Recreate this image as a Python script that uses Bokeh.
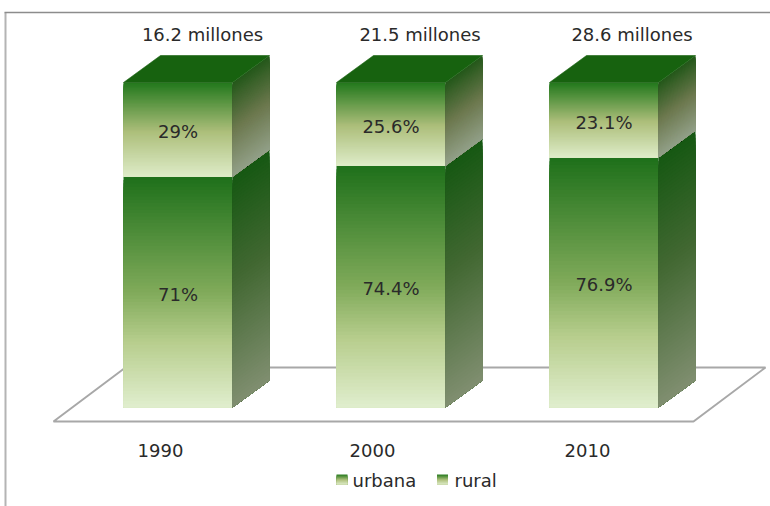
from bokeh.core.properties import value
from bokeh.embed import file_html
from bokeh.models import ColumnDataSource, Range1d
from bokeh.plotting import figure
from bokeh.resources import INLINE

years = ["1990", "2000", "2010"]
urbana = [71, 74.4, 76.9]
rural = [29, 25.6, 23.1]
urbana_labels = ["71%", "74.4%", "76.9%"]
rural_labels = ["29%", "25.6%", "23.1%"]
totals = ["16.2 millones", "21.5 millones", "28.6 millones"]

FONT = value("DejaVu Sans")
FONT_SIZE = "18px"
TEXT = "#2a2a2a"
PX_X = 213.0     # pixels per category step
PX_Y = 3.25      # pixels per percentage point
BAR = 109 / PX_X
DX = 37 / PX_X   # oblique depth of the columns
DY = 27 / PX_Y
STRIPS = 70


def lerp_stops(stops, t):
    for (t0, c0), (t1, c1) in zip(stops, stops[1:]):
        if t <= t1:
            f = (t - t0) / (t1 - t0)
            return tuple(round(a + (b - a) * f) for a, b in zip(c0, c1))
    return stops[-1][1]


def hexa(c):
    return "#%02x%02x%02x" % c


FRONT_RURAL = [(0, (34, 120, 28)), (0.52, (172, 190, 122)), (1, (222, 236, 200))]
FRONT_URBANA = [(0, (30, 112, 26)), (0.5, (128, 170, 90)), (0.72, (184, 206, 142)), (1, (224, 238, 206))]
SIDE_RURAL = [(0, (36, 88, 26)), (0.5, (108, 120, 78)), (1, (146, 160, 136))]
SIDE_URBANA = [(0, (22, 88, 18)), (0.45, (66, 104, 50)), (1, (128, 142, 112))]
TOP = "#17620f"

p = figure(width=770, height=506, output_backend="svg", toolbar_location=None,
           x_range=Range1d(-177.5 / PX_X, (770 - 177.5) / PX_X),
           y_range=Range1d(-(506 - 407) / PX_Y, 407 / PX_Y),
           min_border=0, outline_line_color=None, background_fill_color="white")
p.axis.visible = False
p.grid.visible = False


def px_x(v):
    return (v - 177.5) / PX_X


def px_y(v):
    return (407 - v) / PX_Y


# Panel border: only the top and left edges are visible
p.line([px_x(5), px_x(5)], [px_y(506), px_y(12)], line_color="#b4b4b4", line_width=2)
p.line([px_x(4), px_x(770)], [px_y(12), px_y(12)], line_color="#8c8c8c", line_width=1.5)

# Floor of the 3D scene
floor_x = [px_x(53), px_x(693), px_x(765), px_x(125)]
floor_y = [px_y(421), px_y(421), px_y(367), px_y(367)]
p.patch(floor_x, floor_y, fill_color="white", line_color="#a8a8a8", line_width=2)


def add_segment(centre, y0, y1, front_stops, side_stops):
    """Draw one column segment as overlapping gradient strips, painted top to bottom."""
    left, right = centre - BAR / 2, centre + BAR / 2
    step = (y1 - y0) / STRIPS
    q = dict(left=[], right=[], top=[], bottom=[], color=[])
    xs, ys, cs = [], [], []
    for i in range(STRIPS):
        hi = y1 - i * step
        t = (i + 0.5) / STRIPS
        q["left"].append(left)
        q["right"].append(right)
        q["top"].append(hi)
        q["bottom"].append(y0)
        q["color"].append(hexa(lerp_stops(front_stops, t)))
        xs.append([right, right + DX, right + DX, right])
        ys.append([y0, y0 + DY, hi + DY, hi])
        cs.append(hexa(lerp_stops(side_stops, t)))
    p.quad(left="left", right="right", top="top", bottom="bottom", fill_color="color",
           line_color=None, source=ColumnDataSource(q))
    p.patches(xs, ys, fill_color=cs, line_color=None)


for i, year in enumerate(years):
    add_segment(i, 0, urbana[i], FRONT_URBANA, SIDE_URBANA)
    add_segment(i, urbana[i], urbana[i] + rural[i], FRONT_RURAL, SIDE_RURAL)
    # Darker cap of the column
    top = urbana[i] + rural[i]
    l, r = i - BAR / 2, i + BAR / 2
    p.patch([l, r, r + DX, l + DX], [top, top, top + DY, top + DY],
            fill_color=TOP, line_color=TOP, line_width=0.6)

xs = list(range(len(years)))
common = dict(text_font=FONT, text_font_size=FONT_SIZE, text_color=TEXT,
              text_align="center", text_baseline="middle")
LABEL_DROP = 2 / PX_Y

p.text(xs, [u / 2 - LABEL_DROP for u in urbana], text=urbana_labels, **common)
p.text(xs, [u + r / 2 - LABEL_DROP for u, r in zip(urbana, rural)], text=rural_labels, **common)
p.text([px_x(v) for v in (202, 419.5, 631.5)], [px_y(34)] * 3, text=totals, **common)
p.text([px_x(v) for v in (160, 372, 587)], [px_y(450)] * 3, text=years, **common)

# Legend
for label, sx, tx in (("urbana", 341.5, 352), ("rural", 442, 454)):
    n = 10
    for k in range(n):
        c = hexa(lerp_stops(FRONT_RURAL, (k + 0.5) / n))
        p.quad(left=[px_x(sx - 5.5)], right=[px_x(sx + 5.5)],
               top=[px_y(474 + k)], bottom=[px_y(484)],
               fill_color=c, line_color=None)
    p.text([px_x(tx)], [px_y(480)], text=[label], text_font=FONT, text_font_size=FONT_SIZE,
           text_color=TEXT, text_align="left", text_baseline="middle")

open("out.html", "w").write(file_html(p, INLINE))
